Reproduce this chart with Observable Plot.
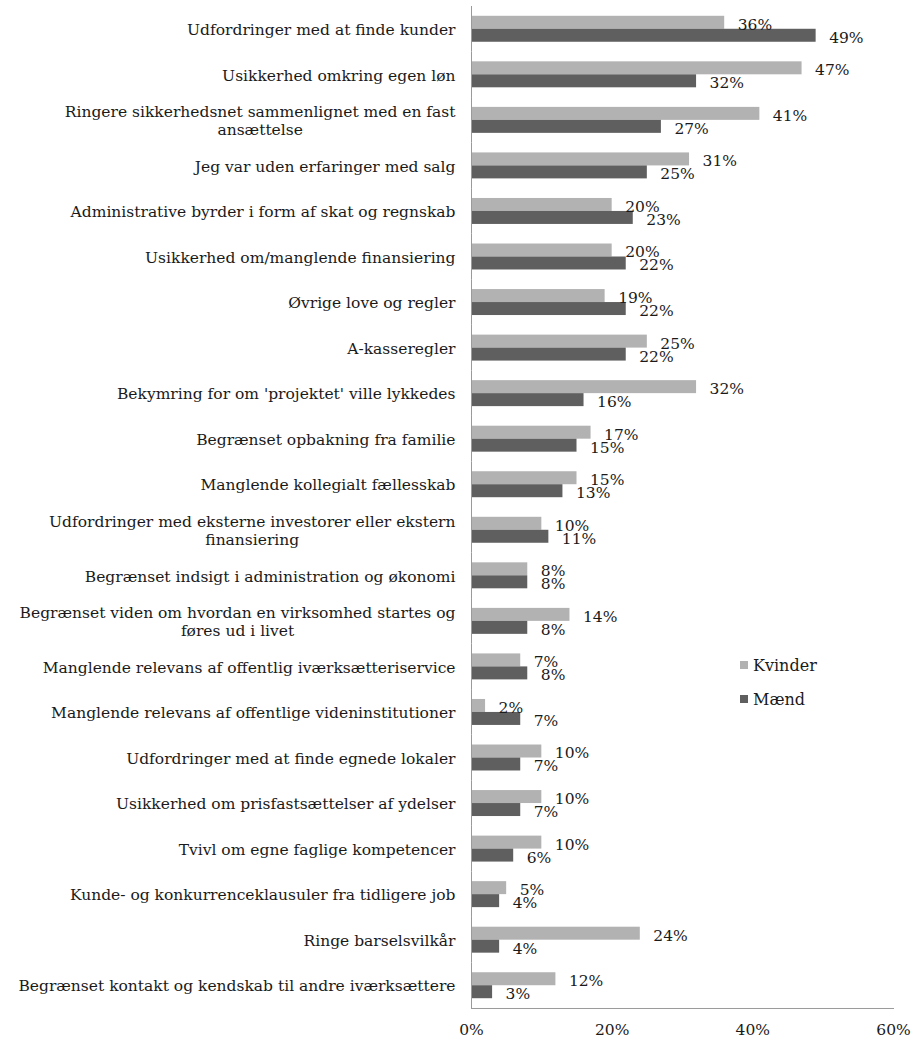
<!DOCTYPE html>
<html>
<head>
<meta charset="utf-8">
<script src="https://cdn.jsdelivr.net/npm/d3@7"></script>
<script src="https://cdn.jsdelivr.net/npm/@observablehq/plot@0.6"></script>
<style>
  body { margin: 0; background: #fff; }
  #wrap { position: relative; width: 914px; height: 1042px; }
  #legend { position: absolute; left: 740px; top: 655px; font-family: "DejaVu Serif", serif; font-size: 16px; color: #1a1a1a; }
  #legend div { display: flex; align-items: center; height: 20px; margin-bottom: 14px; }
  #legend span.sw { display: inline-block; width: 8px; height: 8px; margin-right: 5px; }
</style>
</head>
<body>
<div id="wrap"></div>
<script>
const categories = [
  "Udfordringer med at finde kunder",
  "Usikkerhed omkring egen løn",
  "Ringere sikkerhedsnet sammenlignet med en fast ansættelse",
  "Jeg var uden erfaringer med salg",
  "Administrative byrder i form af skat og regnskab",
  "Usikkerhed om/manglende finansiering",
  "Øvrige love og regler",
  "A-kasseregler",
  "Bekymring for om 'projektet' ville lykkedes",
  "Begrænset opbakning fra familie",
  "Manglende kollegialt fællesskab",
  "Udfordringer med eksterne investorer eller ekstern finansiering",
  "Begrænset indsigt i administration og økonomi",
  "Begrænset viden om hvordan en virksomhed startes og føres ud i livet",
  "Manglende relevans af offentlig iværksætteriservice",
  "Manglende relevans af offentlige videninstitutioner",
  "Udfordringer med at finde egnede lokaler",
  "Usikkerhed om prisfastsættelser af ydelser",
  "Tvivl om egne faglige kompetencer",
  "Kunde- og konkurrenceklausuler fra tidligere job",
  "Ringe barselsvilkår",
  "Begrænset kontakt og kendskab til andre iværksættere"
];
// tick labels as they are wrapped in the chart
const categoryLabels = [
  "Udfordringer med at finde kunder",
  "Usikkerhed omkring egen løn",
  "Ringere sikkerhedsnet sammenlignet med en fast\nansættelse",
  "Jeg var uden erfaringer med salg",
  "Administrative byrder i form af skat og regnskab",
  "Usikkerhed om/manglende finansiering",
  "Øvrige love og regler",
  "A-kasseregler",
  "Bekymring for om 'projektet' ville lykkedes",
  "Begrænset opbakning fra familie",
  "Manglende kollegialt fællesskab",
  "Udfordringer med eksterne investorer eller ekstern\nfinansiering",
  "Begrænset indsigt i administration og økonomi",
  "Begrænset viden om hvordan en virksomhed startes og\nføres ud i livet",
  "Manglende relevans af offentlig iværksætteriservice",
  "Manglende relevans af offentlige videninstitutioner",
  "Udfordringer med at finde egnede lokaler",
  "Usikkerhed om prisfastsættelser af ydelser",
  "Tvivl om egne faglige kompetencer",
  "Kunde- og konkurrenceklausuler fra tidligere job",
  "Ringe barselsvilkår",
  "Begrænset kontakt og kendskab til andre iværksættere"
];
const kvinder = [36, 47, 41, 31, 20, 20, 19, 25, 32, 17, 15, 10, 8, 14, 7, 2, 10, 10, 10, 5, 24, 12];
const maend   = [49, 32, 27, 25, 23, 22, 22, 22, 16, 15, 13, 11, 8, 8, 8, 7, 7, 7, 6, 4, 4, 3];
const series = ["Kvinder", "Mænd"];
const seriesColors = ["#b2b2b2", "#5f5f5f"];
const xTicks = [0, 20, 40, 60];

const labelMap = new Map(categories.map((c, i) => [c, categoryLabels[i]]));
const rows = categories.flatMap((c, i) => [
  {category: c, series: series[0], value: kvinder[i]},
  {category: c, series: series[1], value: maend[i]}
]);

const fontFamily = "'DejaVu Serif', serif";
const fontSize = 15.5;
const pad = 16;

// measure wrapped labels so each wrapped block is right-aligned with its lines centred
const ctx = document.createElement("canvas").getContext("2d");
ctx.font = `${fontSize}px ${fontFamily}`;
const blockWidth = c => Math.max(...labelMap.get(c).split("\n").map(l => ctx.measureText(l).width));
const single = categories.filter(c => !labelMap.get(c).includes("\n"));
const wrapped = categories.filter(c => labelMap.get(c).includes("\n"));

const axisCommon = {anchor: "left", tickSize: 0, label: null, fill: "#1a1a1a", lineHeight: 1.15, fontSize};

const chart = Plot.plot({
  width: 914,
  height: 1042,
  marginLeft: 471,
  marginRight: 21,
  marginTop: 6,
  marginBottom: 34,
  style: {fontFamily, fontSize: fontSize + "px", color: "#1a1a1a", background: "#fff"},
  x: {domain: [0, 60], label: null},
  fy: {domain: categories, padding: 0, round: false, label: null},
  y: {domain: series, paddingInner: 0, paddingOuter: 0.754, round: false, axis: null},
  color: {domain: series, range: seriesColors},
  marks: [
    Plot.barX(rows, {fy: "category", y: "series", x: "value", fill: "series"}),
    Plot.text(rows, {fy: "category", y: "series", x: "value", text: d => d.value + "%", textAnchor: "start", dx: 13, dy: 2, fill: "#1a1a1a", fontSize}),
    Plot.ruleX([0], {stroke: "#9a9a9a"}),
    Plot.frame({anchor: "bottom", stroke: "#9a9a9a", facetAnchor: "bottom"}),
    Plot.axisFy({...axisCommon, ticks: single, tickPadding: pad, tickFormat: c => labelMap.get(c)}),
    ...wrapped.map(c => Plot.axisFy({...axisCommon, ticks: [c], textAnchor: "middle", tickPadding: pad + blockWidth(c) / 2, tickFormat: c => labelMap.get(c)})),
    Plot.axisX({anchor: "bottom", ticks: xTicks, tickFormat: d => d + "%", tickSize: 0, tickPadding: 15, label: null, fill: "#1a1a1a", fontSize})
  ]
});

const wrap = document.getElementById("wrap");
wrap.appendChild(chart);
const legend = document.createElement("div");
legend.id = "legend";
series.forEach((s, i) => {
  const row = document.createElement("div");
  const sw = document.createElement("span");
  sw.className = "sw";
  sw.style.background = seriesColors[i];
  row.appendChild(sw);
  row.appendChild(document.createTextNode(s));
  legend.appendChild(row);
});
wrap.appendChild(legend);
</script>
</body>
</html>
